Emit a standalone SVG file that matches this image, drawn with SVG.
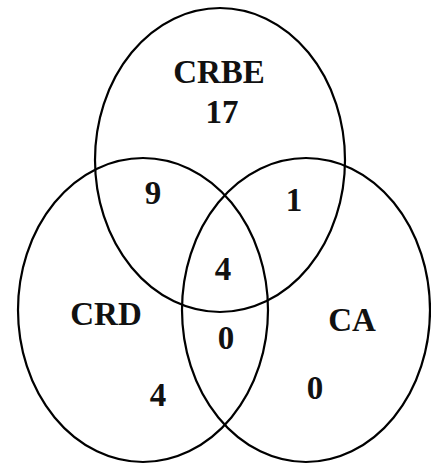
<svg xmlns="http://www.w3.org/2000/svg" width="431" height="464" viewBox="0 0 431 464">
<style>
.set{fill:none;stroke:#000;stroke-width:2.2}
.t{font-family:"Liberation Serif","Times New Roman",serif;font-weight:bold;font-size:33px;fill:#111;text-anchor:middle}
</style>
<rect width="431" height="464" fill="#fff"/>
<g id="connectors"></g>
<g id="crbe"><ellipse class="set" cx="220" cy="160" rx="125" ry="152"/><text class="t" x="219" y="83">CRBE</text><text class="t" x="222" y="123">17</text></g>
<g id="crd"><ellipse class="set" cx="143" cy="310" rx="125" ry="152"/><text class="t" x="106" y="325">CRD</text><text class="t" x="158" y="406">4</text></g>
<g id="ca"><ellipse class="set" cx="306" cy="310" rx="124" ry="152"/><text class="t" x="352" y="331">CA</text><text class="t" x="315" y="399">0</text></g>
<g id="regions">
<text class="t" x="153" y="204">9</text>
<text class="t" x="294" y="211">1</text>
<text class="t" x="223" y="280">4</text>
<text class="t" x="226" y="349">0</text>
</g>
</svg>
